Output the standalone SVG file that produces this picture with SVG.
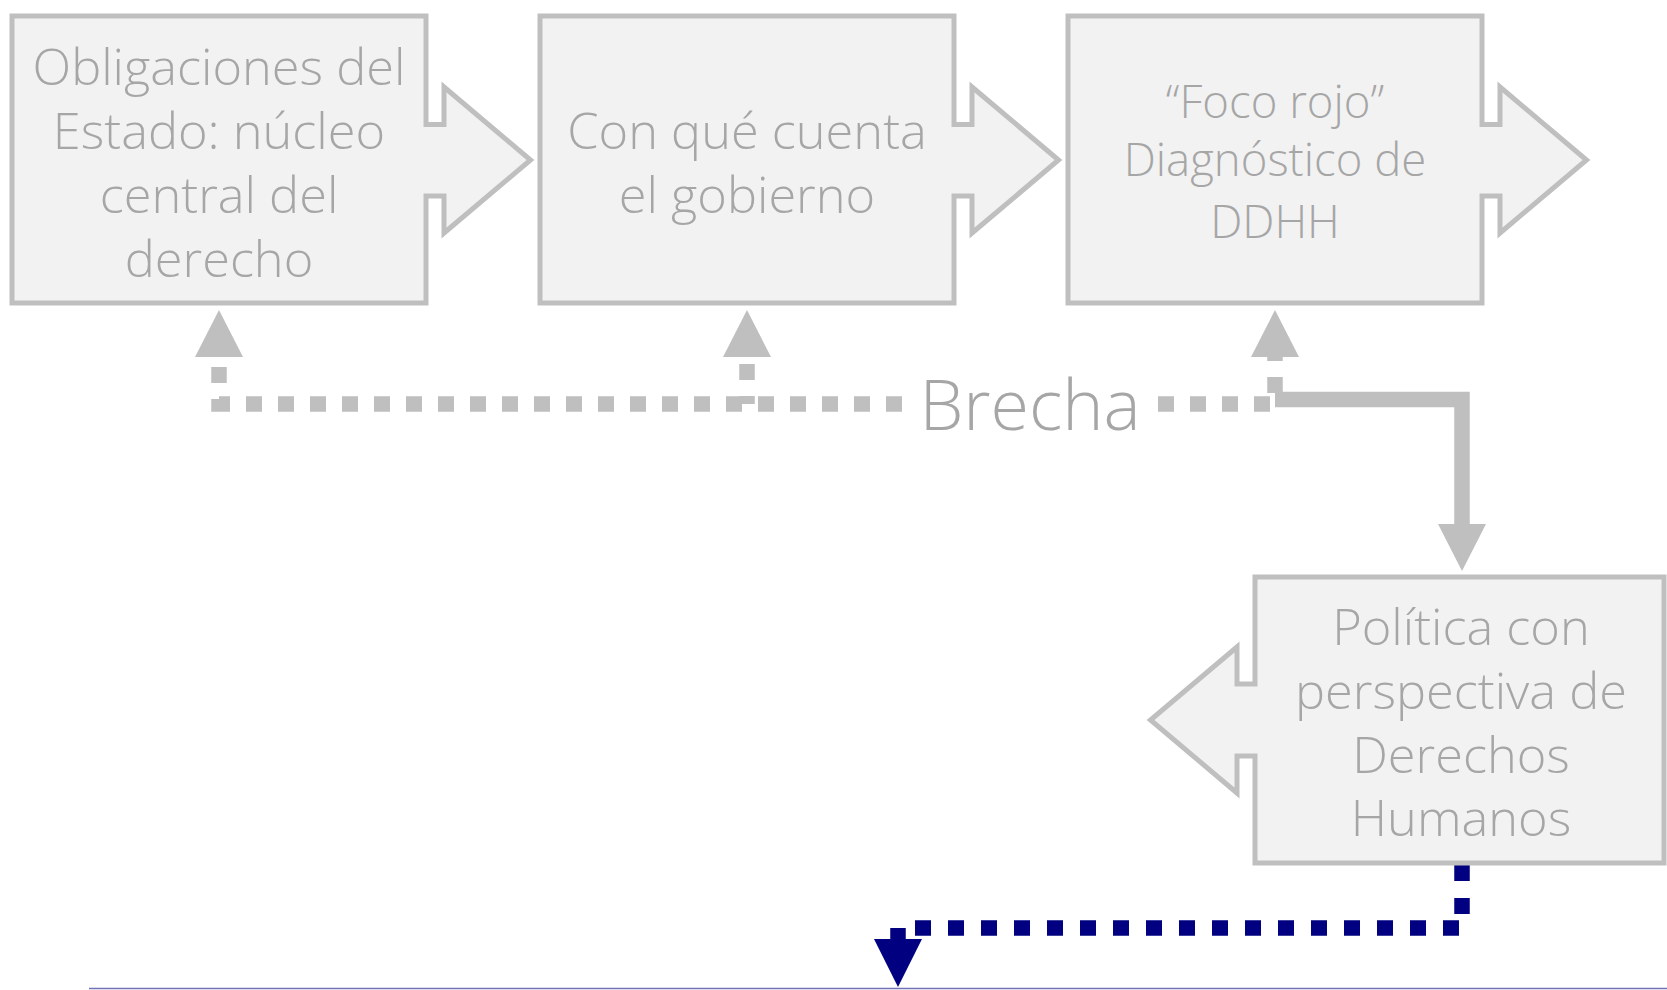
<svg xmlns="http://www.w3.org/2000/svg" width="1667" height="990" viewBox="0 0 1667 990">
<style>
.box{fill:#f2f2f2;stroke:#bfbfbf;stroke-width:5;stroke-linejoin:miter}
.t{font-family:"Open Sans","Liberation Sans",sans-serif;font-weight:300;fill:#a6a6a6;text-anchor:middle}
.t1{font-size:50.5px}
.t3{font-size:45.5px}
.gd{fill:none;stroke:#bfbfbf;stroke-width:15.5;stroke-dasharray:16 16}
.gs{fill:none;stroke:#bfbfbf;stroke-width:15.5}
.nd{fill:none;stroke:#000080;stroke-width:15.5;stroke-dasharray:16 17}
</style>
<defs>
<marker id="ag" markerUnits="userSpaceOnUse" markerWidth="48" markerHeight="48" viewBox="0 0 48 48" refX="1" refY="24" orient="auto">
<path d="M0,0 L47,24 L0,48 Z" fill="#bfbfbf"/>
</marker>
<marker id="an" markerUnits="userSpaceOnUse" markerWidth="48" markerHeight="48" viewBox="0 0 48 48" refX="1" refY="24" orient="auto">
<path d="M0,0 L48,24 L0,48 Z" fill="#000080"/>
</marker>
</defs>
<line x1="89" y1="988.5" x2="1667" y2="988.5" stroke="#7272b6" stroke-width="1.5"/>
<g id="connectors">
<path class="gd" d="M902,404 H219 V356" marker-end="url(#ag)"/>
<path class="gd" d="M747,404 V356" stroke-dashoffset="8" marker-end="url(#ag)"/>
<path class="gd" d="M1158,404 H1275 V356" marker-end="url(#ag)"/>
<path class="gs" d="M1275,399.5 H1462 V525" marker-end="url(#ag)"/>
<path class="nd" d="M1462,865 V928 H898 V940" marker-end="url(#an)"/>
<text x="1030" y="430" class="t" style="font-size:70px">Brecha</text>
</g>
<g id="n1">
<path class="box" d="M12,16 H426 V124.5 H444 V87 L530.5,160 L444,233 V196 H426 V303 H12 Z"/>
<text class="t t1" x="219"><tspan x="219" y="85">Obligaciones del</tspan><tspan x="219" y="149">Estado: núcleo</tspan><tspan x="219" y="213">central del</tspan><tspan x="219" y="277">derecho</tspan></text>
</g>
<g id="n2">
<path class="box" d="M540,16 H954 V124.5 H972 V87 L1058.5,160 L972,233 V196 H954 V303 H540 Z"/>
<text class="t t1" x="747"><tspan x="747" y="149">Con qué cuenta</tspan><tspan x="747" y="213">el gobierno</tspan></text>
</g>
<g id="n3">
<path class="box" d="M1068,16 H1482 V124.5 H1500 V87 L1586.5,160 L1500,233 V196 H1482 V303 H1068 Z"/>
<text class="t t3" x="1275"><tspan x="1275" y="118">“Foco rojo”</tspan><tspan x="1275" y="176">Diagnóstico de</tspan><tspan x="1275" y="238">DDHH</tspan></text>
</g>
<g id="n4">
<path class="box" d="M1255,577 H1664 V863 H1255 V756 H1237 V793 L1150.5,720 L1237,647 V684 H1255 Z"/>
<text class="t t1" x="1461"><tspan x="1461" y="645">Política con</tspan><tspan x="1461" y="709">perspectiva de</tspan><tspan x="1461" y="773">Derechos</tspan><tspan x="1461" y="836">Humanos</tspan></text>
</g>
</svg>
